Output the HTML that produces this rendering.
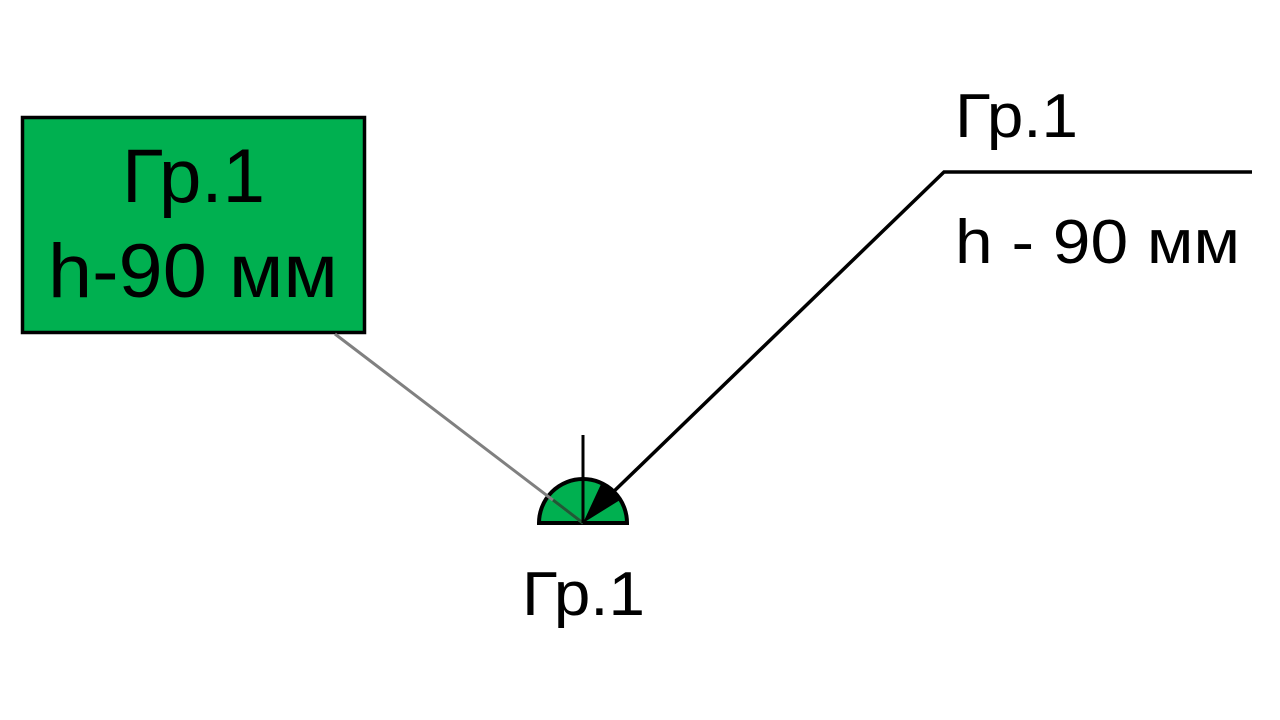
<!DOCTYPE html>
<html><head><meta charset="utf-8"><style>html,body{margin:0;padding:0;background:#fff;}svg{display:block}</style></head>
<body>
<svg width="1280" height="720" viewBox="0 0 1280 720" xmlns="http://www.w3.org/2000/svg" font-family="Liberation Sans, sans-serif">
<rect x="22.5" y="117.5" width="342" height="215" fill="#00b050" stroke="#000" stroke-width="3.5"/>
<text x="122" y="202" font-size="76" textLength="143" lengthAdjust="spacingAndGlyphs">Гр.1</text>
<text x="48" y="297" font-size="76" textLength="290" lengthAdjust="spacingAndGlyphs">h-90 мм</text>
<path d="M539,523 A44,44 0 0 1 627,523 Z" fill="#00b050" stroke="#000" stroke-width="4"/>
<line x1="335" y1="334" x2="583" y2="523" stroke="#808080" stroke-width="3"/>
<line x1="553" y1="500" x2="583" y2="523" stroke="#1f5a35" stroke-width="3"/>
<line x1="583" y1="435" x2="583" y2="523" stroke="#000" stroke-width="3"/>
<path d="M583,523 L602,482 A44,44 0 0 1 620,500 Z" fill="#000"/>
<line x1="583" y1="523" x2="627" y2="523" stroke="#000" stroke-width="4"/>
<polyline points="608,497 944,172 1252,172" fill="none" stroke="#000" stroke-width="3.5"/>
<text x="955" y="137" font-size="62" textLength="123" lengthAdjust="spacingAndGlyphs">Гр.1</text>
<text x="955" y="263" font-size="62" textLength="285" lengthAdjust="spacingAndGlyphs">h - 90 мм</text>
<text x="522" y="615" font-size="62" textLength="123" lengthAdjust="spacingAndGlyphs">Гр.1</text>
</svg>
</body></html>
